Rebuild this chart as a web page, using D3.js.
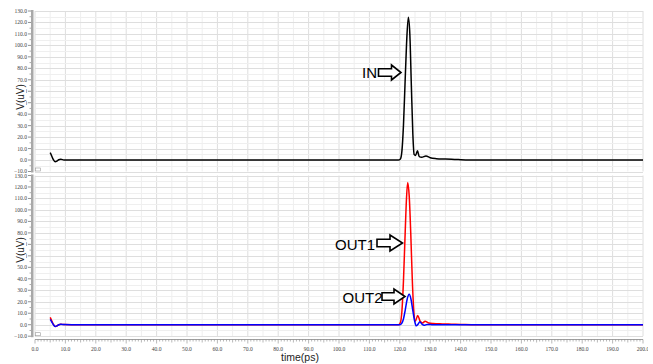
<!DOCTYPE html>
<html><head><meta charset="utf-8">
<script src="https://cdn.jsdelivr.net/npm/d3@7"></script>
<style>body{margin:0;background:#fff}svg{display:block}</style>
</head><body>
<svg id="c" width="653" height="364"></svg>
<script>
// ---- data ----
const inTime = [5, 5.5, 6, 6.6, 7.2, 7.8, 8.5, 9.5, 12, 60, 119.5, 120.2, 120.7, 121.2, 121.7, 122.2, 122.8, 123.3, 123.8, 124.3, 124.7, 125.2, 125.8, 126.4, 127.2, 128.6, 130, 132, 135, 138, 140, 145, 200];
const inValues = [6.5, 3.5, 0.5, -1.5, -1, 0.2, 0.6, 0.1, 0, 0, 0, 1, 8, 30, 65, 100, 124.5, 110, 65, 22, 5, 4, 8, 3, 2.5, 3.5, 2, 1.2, 0.8, 0.5, 0.3, 0, 0];
const out1Time = [5, 5.5, 6, 6.6, 7.2, 7.8, 8.5, 9.5, 12, 60, 119.6, 120.2, 120.7, 121.2, 121.7, 122.2, 122.6, 123.1, 123.6, 124.1, 124.6, 125.1, 125.9, 126.7, 127.5, 128.3, 129.5, 131, 134, 137, 140, 145, 200];
const out1Values = [6.4, 3.5, 0.5, -1.5, -1, 0, 0.5, 0.1, 0, 0, 0, 2, 12, 38, 75, 110, 124, 112, 80, 40, 12, 3, 8, 3, 1.5, 3, 1.5, 1, 0.7, 0.5, 0.3, 0, 0];
const out2Time = [5, 5.5, 6, 6.6, 7.2, 7.8, 8.5, 9.5, 12, 60, 120, 120.6, 121.2, 121.8, 122.4, 123.1, 123.7, 124.3, 124.9, 125.4, 126, 126.6, 127.3, 128, 129, 131, 135, 200];
const out2Values = [4.6, 2.5, 0.3, -1.5, -1, 0, 0.4, 0.1, 0, 0, 0, 1, 5, 13, 22, 26.5, 22, 12, 3, -1, 0.5, 2.5, 0.5, -0.5, 0.3, 0, 0, 0];
const yTickValues = [-10, 0, 10, 20, 30, 40, 50, 60, 70, 80, 90, 100, 110, 120, 130];
const xTickValues = d3.range(0, 201, 10);
const xLabel = "time(ps)";
const yLabel = "V(uV)";

// ---- layout ----
const svg = d3.select("#c");
const x = d3.scaleLinear().domain([0, 200]).range([35, 643]);
const panels = [
  {y: d3.scaleLinear().domain([-10, 130]).range([171.5, 11]), labelY: 97,
   series: [{t: inTime, v: inValues, color: "#000000"}],
   notes: [{text: "IN", tx: 362, ty: 78, ax: 378.5, ay: 72.5, shaftEnd: 391.5, tip: 401, sh: 3.8, hh: 7.5}]},
  {y: d3.scaleLinear().domain([-10, 130]).range([336.2, 175.5]), labelY: 250,
   series: [{t: out1Time, v: out1Values, color: "#ff0000"}, {t: out2Time, v: out2Values, color: "#0000ff"}],
   notes: [{text: "OUT1", tx: 335, ty: 250, ax: 377, ay: 243, shaftEnd: 390, tip: 402.5, sh: 3.8, hh: 8},
           {text: "OUT2", tx: 342.5, ty: 303, ax: 382, ay: 296.5, shaftEnd: 394, tip: 405, sh: 3.8, hh: 7.5}]}
];
const gridX = d3.range(0, 201, 5);
const gridY = d3.range(-10, 131, 5);

panels.forEach((p, pi) => {
  const y = p.y;
  const g = svg.append("g");
  // grid
  g.selectAll(".gx").data(gridX).join("line")
    .attr("x1", d => x(d)).attr("x2", d => x(d))
    .attr("y1", y(130)).attr("y2", y(-10))
    .attr("stroke", d => d % 10 === 0 ? "#dedede" : "#efefef").attr("stroke-width", 1);
  g.selectAll(".gy").data(gridY).join("line")
    .attr("x1", x(0)).attr("x2", x(200))
    .attr("y1", d => Math.round(y(d)) + 0.5).attr("y2", d => Math.round(y(d)) + 0.5)
    .attr("stroke", d => d % 10 === 0 ? "#dedede" : "#efefef").attr("stroke-width", 1);
  // left axis bar
  g.append("rect").attr("x", 31).attr("y", y(130) - 1).attr("width", 2.5)
    .attr("height", y(-10) - y(130) + 2).attr("fill", "#a8a8a8");
  g.selectAll(".ymaj").data(yTickValues).join("line")
    .attr("x1", 28).attr("x2", 31).attr("y1", d => y(d)).attr("y2", d => y(d))
    .attr("stroke", "#777").attr("stroke-width", 0.8);
  g.selectAll(".ymin").data(yTickValues.slice(0, -1).map(d => d + 5)).join("line")
    .attr("x1", 29.5).attr("x2", 31).attr("y1", d => y(d)).attr("y2", d => y(d))
    .attr("stroke", "#888").attr("stroke-width", 0.7);
  g.selectAll(".ylab").data(yTickValues).join("text")
    .attr("x", 27).attr("y", d => y(d) + 2 - (pi === 0 && d === -10 ? 0.8 : 0) + (pi === 1 && d === 130 ? 0.8 : 0))
    .attr("text-anchor", "end").attr("font-family", "Liberation Serif, serif")
    .attr("font-size", 5.6).attr("fill", "#444")
    .text(d => d3.format(".1f")(d));
  // axis title (with white backing that hides the tick labels behind it)
  g.append("rect").attr("x", 13).attr("y", p.labelY - 13.5).attr("width", 13).attr("height", 27).attr("fill", "#fff");
  g.append("text").attr("transform", `translate(23.5,${p.labelY}) rotate(-90)`)
    .attr("text-anchor", "middle").attr("font-family", "Liberation Sans, sans-serif")
    .attr("font-size", 10).attr("fill", "#222").text(yLabel);
  // small panel icon
  g.append("rect").attr("x", 35.5).attr("y", y(-10) - 3.5).attr("width", 5).attr("height", 3)
    .attr("fill", "#fff").attr("stroke", "#999").attr("stroke-width", 0.6);
  // series
  const line = d3.line().x(d => x(d[0])).y(d => y(d[1])).curve(d3.curveMonotoneX);
  p.series.forEach(s => {
    g.append("path").datum(s.t.map((t, i) => [t, s.v[i]]))
      .attr("d", line).attr("fill", "none").attr("stroke", s.color)
      .attr("stroke-width", 1.5).attr("stroke-linejoin", "round");
  });
  // annotations
  p.notes.forEach(n => {
    g.append("text").attr("x", n.tx).attr("y", n.ty)
      .attr("font-family", "Liberation Sans, sans-serif").attr("font-size", 15)
      .attr("fill", "#000").text(n.text);
    const a = [[n.ax, n.ay - n.sh], [n.shaftEnd, n.ay - n.sh], [n.shaftEnd, n.ay - n.hh],
               [n.tip, n.ay], [n.shaftEnd, n.ay + n.hh], [n.shaftEnd, n.ay + n.sh], [n.ax, n.ay + n.sh]];
    g.append("path").attr("d", "M" + a.join("L") + "Z")
      .attr("fill", "#fff").attr("stroke", "#000").attr("stroke-width", 1.6)
      .attr("stroke-linejoin", "miter");
  });
});

// x axis
const xa = svg.append("g");
xa.append("line").attr("x1", x(0)).attr("x2", x(200)).attr("y1", 339.5).attr("y2", 339.5)
  .attr("stroke", "#888").attr("stroke-width", 0.8);
xa.selectAll(".xt").data(d3.range(0, 201, 1)).join("line")
  .attr("x1", d => x(d)).attr("x2", d => x(d)).attr("y1", 339.5)
  .attr("y2", d => d % 10 === 0 ? 343.5 : (d % 5 === 0 ? 342.5 : 341.5))
  .attr("stroke", "#888").attr("stroke-width", 0.6);
svg.append("clipPath").attr("id", "xc").append("rect").attr("x", 0).attr("y", 0).attr("width", 648).attr("height", 364);
xa.append("g").attr("clip-path", "url(#xc)").selectAll(".xl").data(xTickValues).join("text")
  .attr("x", d => x(d)).attr("y", 351)
  .attr("text-anchor", "middle").attr("font-family", "Liberation Serif, serif")
  .attr("font-size", 5.6).attr("fill", "#444")
  .text(d => d3.format(".1f")(d));
svg.append("text").attr("x", 300).attr("y", 361).attr("text-anchor", "middle")
  .attr("font-family", "Liberation Sans, sans-serif").attr("font-size", 10.5)
  .attr("fill", "#222").text(xLabel);
</script>
</body></html>
